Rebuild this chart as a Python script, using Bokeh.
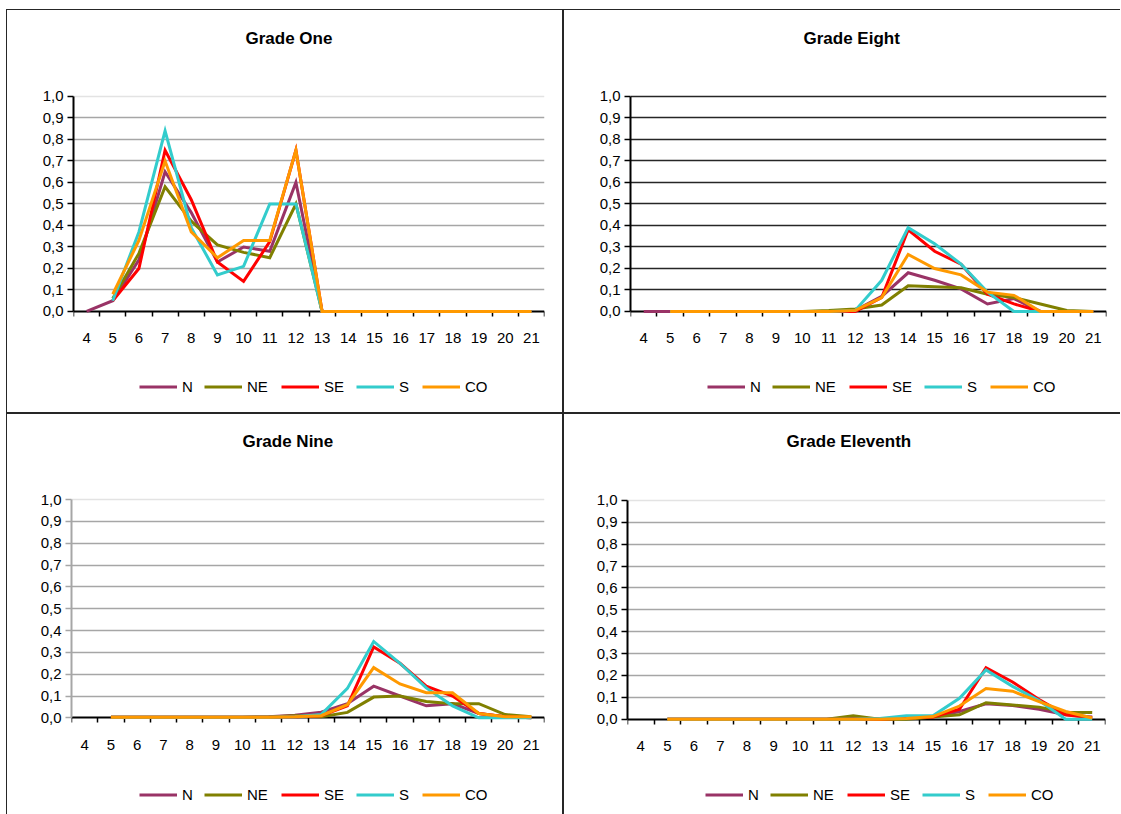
from bokeh.plotting import figure
from bokeh.layouts import column, row
from bokeh.models import Range1d, FixedTicker, Legend, LegendItem, Grid, Label
from bokeh.embed import file_html
from bokeh.resources import INLINE

nan = float("nan")

# Ages on the category axis
ages = [4, 5, 6, 7, 8, 9, 10, 11, 12, 13, 14, 15, 16, 17, 18, 19, 20, 21]
age_labels = [str(a) for a in ages]

# Proportion ticks, written with a decimal comma
y_ticks = [0, 0.1, 0.2, 0.3, 0.4, 0.5, 0.6, 0.7, 0.8, 0.9, 1]
y_labels = ["0,0", "0,1", "0,2", "0,3", "0,4", "0,5", "0,6", "0,7", "0,8", "0,9", "1,0"]

regions = ["N", "NE", "SE", "S", "CO"]
region_colors = ["#993366", "#808000", "#FF0000", "#33CCCC", "#FF9900"]

# Grade One
g1_n  = [0.0, 0.05, 0.24, 0.65, 0.46, 0.23, 0.30, 0.28, 0.60, 0, 0, 0, 0, 0, 0, 0, 0, 0]
g1_ne = [nan, 0.06, 0.27, 0.58, 0.42, 0.31, 0.275, 0.25, 0.50, 0, 0, 0, 0, 0, 0, 0, 0, 0]
g1_se = [nan, 0.05, 0.20, 0.75, 0.52, 0.23, 0.14, 0.325, 0.75, 0, 0, 0, 0, 0, 0, 0, 0, 0]
g1_s  = [nan, 0.05, 0.37, 0.84, 0.39, 0.17, 0.21, 0.50, 0.50, 0, 0, 0, 0, 0, 0, 0, 0, 0]
g1_co = [nan, 0.08, 0.33, 0.70, 0.37, 0.25, 0.33, 0.33, 0.75, 0, 0, 0, 0, 0, 0, 0, 0, 0]

# Grade Eight
g8_n  = [0.0, 0, 0, 0, 0, 0, 0, 0, 0.005, 0.07, 0.18, 0.145, 0.105, 0.035, 0.06, 0, 0, 0]
g8_ne = [nan, 0, 0, 0, 0, 0, 0, 0.004, 0.012, 0.03, 0.12, 0.115, 0.11, 0.08, 0.065, 0.035, 0.005, 0]
g8_se = [nan, 0, 0, 0, 0, 0, 0, 0, 0, 0.065, 0.38, 0.28, 0.22, 0.08, 0.035, 0, 0, 0]
g8_s  = [nan, 0, 0, 0, 0, 0, 0, 0, 0.005, 0.145, 0.39, 0.315, 0.22, 0.09, 0, 0, 0, 0]
g8_co = [nan, 0, 0, 0, 0, 0, 0, 0, 0.005, 0.065, 0.265, 0.20, 0.17, 0.09, 0.075, 0, 0, 0]

# Grade Nine
g9_n  = [nan, 0.003, 0.003, 0.003, 0.003, 0.003, 0.003, 0.005, 0.012, 0.026, 0.065, 0.145, 0.10, 0.055, 0.065, 0.02, 0.005, 0]
g9_ne = [nan, 0.003, 0.003, 0.003, 0.003, 0.003, 0.003, 0.004, 0.01, 0.005, 0.025, 0.095, 0.10, 0.075, 0.065, 0.065, 0.015, 0.005]
g9_se = [nan, 0.003, 0.003, 0.003, 0.003, 0.003, 0.003, 0.003, 0.005, 0.01, 0.055, 0.325, 0.25, 0.145, 0.10, 0.02, 0.005, 0]
g9_s  = [nan, 0.003, 0.003, 0.003, 0.003, 0.003, 0.003, 0.003, 0.005, 0.015, 0.135, 0.35, 0.25, 0.137, 0.055, 0, 0, 0]
g9_co = [nan, 0.003, 0.003, 0.003, 0.003, 0.003, 0.003, 0.003, 0.005, 0.01, 0.06, 0.23, 0.155, 0.115, 0.115, 0.02, 0.005, 0.005]

# Grade Eleventh
g11_n  = [nan, 0, 0, 0, 0, 0, 0, 0, 0.008, 0, 0.005, 0.01, 0.035, 0.07, 0.062, 0.045, 0.02, 0.01]
g11_ne = [nan, 0, 0, 0, 0, 0, 0, 0, 0.015, 0, 0, 0.01, 0.02, 0.075, 0.065, 0.055, 0.032, 0.03]
g11_se = [nan, 0, 0, 0, 0, 0, 0, 0, 0, 0, 0.005, 0.01, 0.045, 0.235, 0.17, 0.09, 0.02, 0.005]
g11_s  = [nan, 0, 0, 0, 0, 0, 0, 0, 0, 0.003, 0.015, 0.015, 0.095, 0.225, 0.15, 0.085, 0, 0]
g11_co = [nan, 0, 0, 0, 0, 0, 0, 0, 0, 0, 0.003, 0.012, 0.06, 0.14, 0.128, 0.08, 0.035, 0.005]

FONT = "Liberation Sans"

# horizontal pixel offsets of the legend entries from the first one
LEGEND_STEPS = [0, 65, 142, 217, 283]


def make_panel(title, series, width, height, left, right, y_span, title_y,
               title_offset, margin, grid_color, top_grid_color, yaxis_color,
               legend_at):
    # the frame fills the panel top to bottom, so the title and legend sit
    # inside it; the y axis is bounded to 0..1 and the age axis pinned at zero
    p = figure(width=width, height=height, output_backend="svg",
               toolbar_location=None, tools="",
               x_range=Range1d(3.5, 21.5), y_range=Range1d(*y_span),
               min_border_left=left, min_border_right=right,
               min_border_top=0, min_border_bottom=0,
               background_fill_color="white", border_fill_color="white",
               outline_line_color=None, margin=margin,
               styles={"background-color": "white"})

    xa = p.xaxis[0]
    xa.fixed_location = 0
    xa.ticker = FixedTicker(ticks=ages, minor_ticks=[a - 0.5 for a in ages] + [21.5])
    xa.major_label_overrides = dict(zip(ages, age_labels))
    xa.major_tick_out = 0
    xa.major_tick_in = 0
    xa.minor_tick_out = 5
    xa.minor_tick_in = 0
    xa.minor_tick_line_color = "black"
    xa.minor_tick_line_width = 1.5
    xa.axis_line_color = "black"
    xa.axis_line_width = 2
    xa.major_label_standoff = 17
    xa.major_label_text_font = FONT
    xa.major_label_text_font_size = "15px"
    xa.major_label_text_color = "black"

    ya = p.yaxis[0]
    ya.bounds = (0, 1)
    ya.ticker = FixedTicker(ticks=y_ticks)
    ya.major_label_overrides = dict(zip(y_ticks, y_labels))
    ya.major_tick_out = 6
    ya.major_tick_in = 0
    ya.major_tick_line_color = yaxis_color
    ya.major_tick_line_width = 1.5
    ya.minor_tick_line_color = None
    ya.axis_line_color = yaxis_color
    ya.axis_line_width = 2
    ya.major_label_standoff = 4
    ya.major_label_text_font = FONT
    ya.major_label_text_font_size = "15px"
    ya.major_label_text_color = "black"

    p.xgrid.visible = False
    p.ygrid.ticker = FixedTicker(ticks=y_ticks[1:-1])
    p.ygrid.grid_line_color = grid_color
    p.ygrid.grid_line_width = 1.5
    top_grid = Grid(dimension=1, ticker=FixedTicker(ticks=[y_ticks[-1]]),
                    grid_line_color=top_grid_color, grid_line_width=1.5)
    p.add_layout(top_grid)

    p.add_layout(Label(x=3.5, y=title_y, x_offset=title_offset, text=title,
                       text_align="left", text_baseline="middle",
                       text_font=FONT, text_font_size="17px",
                       text_font_style="bold", text_color="black"))

    lx, ly = legend_at
    for name, color, vals, step in zip(regions, region_colors, series, LEGEND_STEPS):
        r = p.line(ages, vals, line_color=color, line_width=3,
                   line_join="miter", level="overlay")
        legend = Legend(items=[LegendItem(label=name, renderers=[r])],
                        orientation="horizontal", location=(lx + step, ly),
                        glyph_width=38, glyph_height=17, label_height=17,
                        label_standoff=5, spacing=0, padding=0, margin=0,
                        label_text_font=FONT, label_text_font_size="15px",
                        label_text_color="black",
                        border_line_color=None, background_fill_alpha=0)
        p.add_layout(legend, "center")
    return p


p1 = make_panel("Grade One", [g1_n, g1_ne, g1_se, g1_s, g1_co],
                555, 402, 66, 18, (-0.470, 1.400), 1.27, 172, (1, 1, 1, 1),
                "#a6a6a6", "#e3e3e3", "black", (66, 17))
p2 = make_panel("Grade Eight", [g8_n, g8_ne, g8_se, g8_s, g8_co],
                556, 402, 66, 14, (-0.470, 1.400), 1.27, 173, (1, 0, 1, 1),
                "#262626", "#262626", "black", (77, 17))
p3 = make_panel("Grade Nine", [g9_n, g9_ne, g9_se, g9_s, g9_co],
                555, 400, 64, 18, (-0.443, 1.390), 1.267, 171, (1, 1, 0, 1),
                "#a6a6a6", "#e3e3e3", "#a6a6a6", (68, 11))
p4 = make_panel("Grade Eleventh", [g11_n, g11_ne, g11_se, g11_s, g11_co],
                556, 400, 63, 15, (-0.436, 1.393), 1.268, 159, (1, 0, 0, 1),
                "#a6a6a6", "#e3e3e3", "black", (78, 11))

page = column(row(p1, p2), row(p3, p4), margin=(9, 0, 0, 6),
              styles={"background-color": "#262626"})

open("out.html", "w").write(file_html(page, INLINE))
